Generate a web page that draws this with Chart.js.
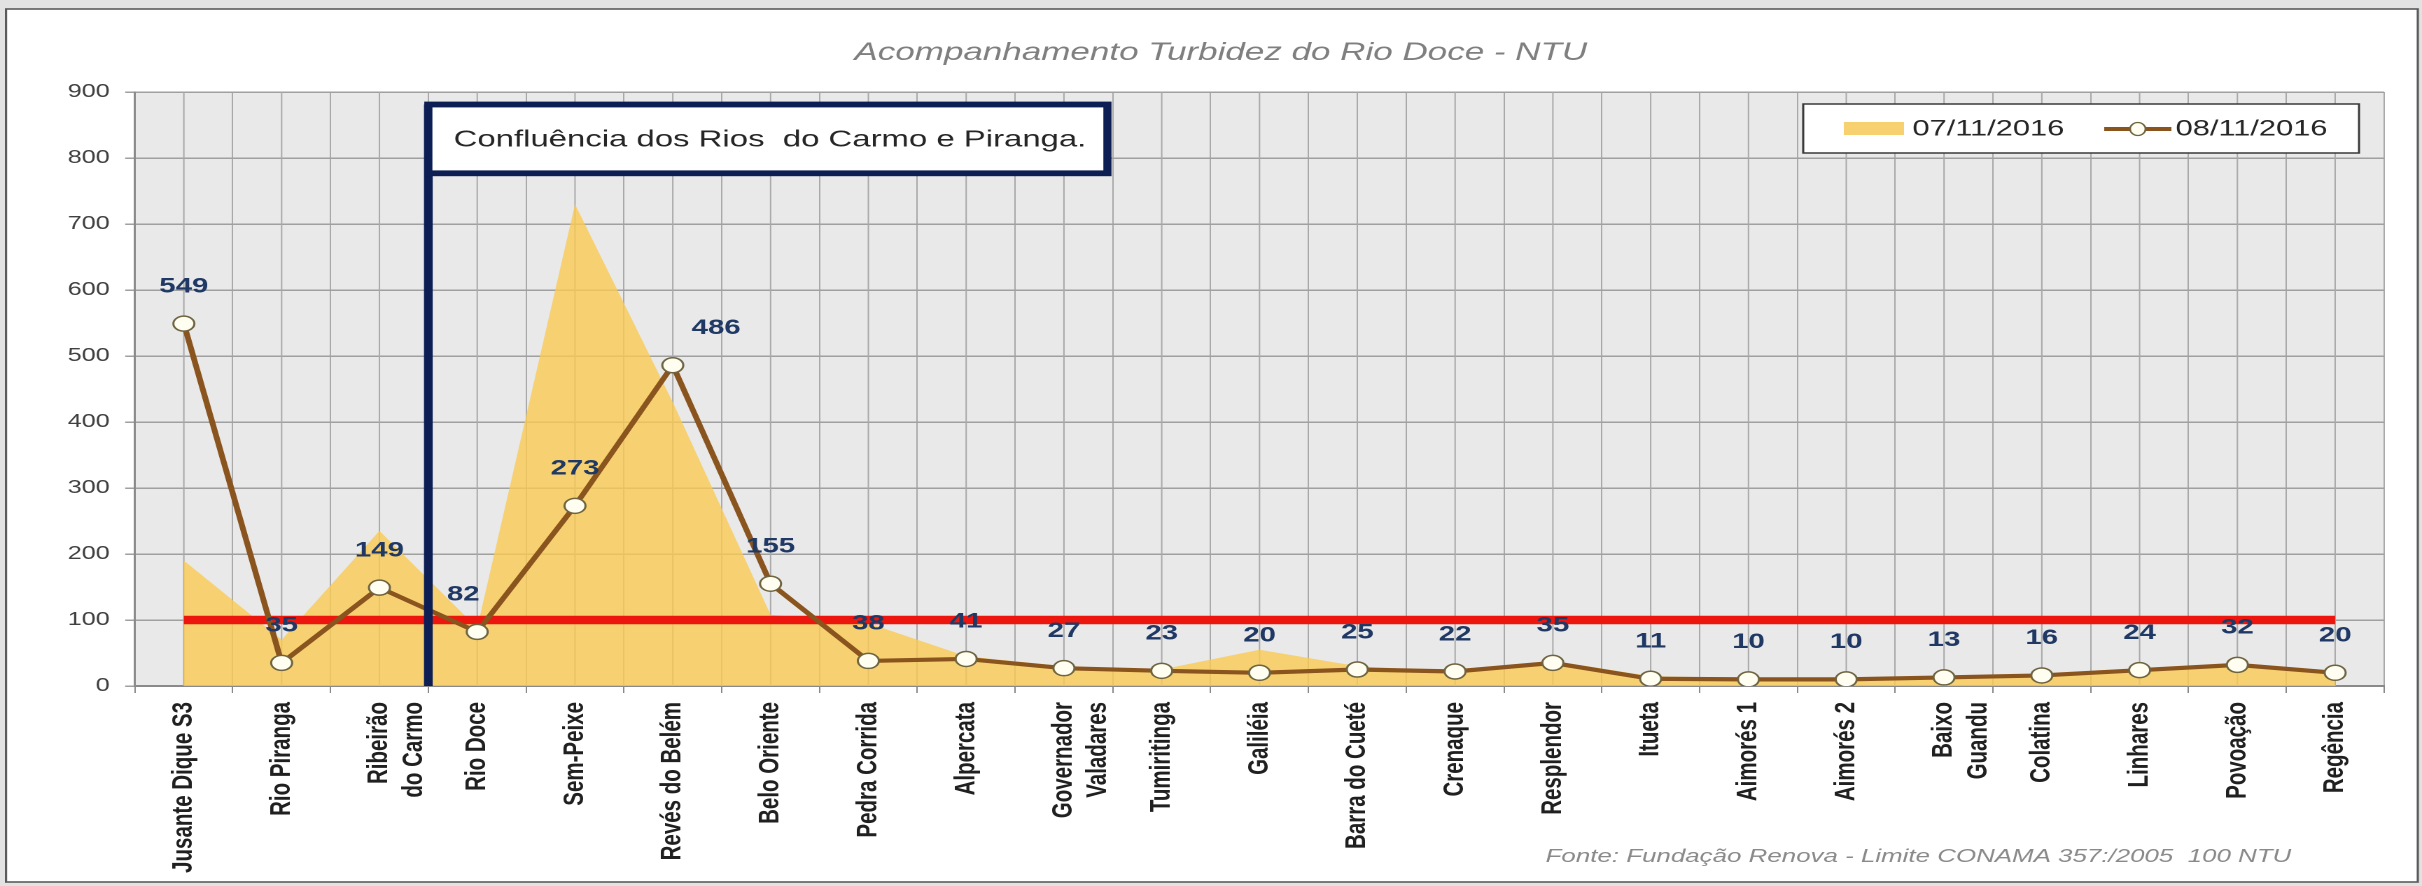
<!DOCTYPE html>
<html lang="pt">
<head>
<meta charset="utf-8">
<title>Acompanhamento Turbidez do Rio Doce - NTU</title>
<script src="https://cdn.jsdelivr.net/npm/chart.js@4"></script>
<style>
  html, body { margin:0; padding:0; width:2422px; height:886px; overflow:hidden; background:#e2e2e2; }
  #wrap { position:absolute; left:0; top:0; width:1730px; height:886px; transform:scaleX(1.4); transform-origin:0 0; }
  canvas { display:block; }
</style>
</head>
<body>
<div id="wrap"><canvas id="c"></canvas></div>
<script>
// ---- data ----
const categorias = [
  'Jusante Dique S3', 'Rio Piranga', ['Ribeirão', 'do Carmo'], 'Rio Doce', 'Sem-Peixe',
  'Revés do Belém', 'Belo Oriente', 'Pedra Corrida', 'Alpercata', ['Governador', 'Valadares'],
  'Tumiritinga', 'Galiléia', 'Barra do Cueté', 'Crenaque', 'Resplendor', 'Itueta',
  'Aimorés 1', 'Aimorés 2', ['Baixo', 'Guandu'], 'Colatina', 'Linhares', 'Povoação', 'Regência'
];
const turbidez07 = [190, 70, 235, 88, 730, 430, 108, 95, 45, 30, 25, 55, 30, 22, 38, 15, 12, 12, 15, 18, 25, 28, 22];
const turbidez08 = [549, 35, 149, 82, 273, 486, 155, 38, 41, 27, 23, 20, 25, 22, 35, 11, 10, 10, 13, 16, 24, 32, 20];
const limiteConama = [100, 100, 100, 100, 100, 100, 100, 100, 100, 100, 100, 100, 100, 100, 100, 100, 100, 100, 100, 100, 100, 100, 100];
const serieNomes = ['07/11/2016', '08/11/2016', 'Limite CONAMA'];
const yMin = 0, yMax = 900, yStep = 100;
const tituloTexto = 'Acompanhamento Turbidez do Rio Doce - NTU';
const notaTexto = 'Confluência dos Rios  do Carmo e Piranga.';
const fonteTexto = 'Fonte: Fundação Renova - Limite CONAMA 357:/2005  100 NTU';

// ---- styles ----
const FONT = "'Liberation Sans', Arial, Helvetica, sans-serif";
const areaFill = 'rgba(250,202,82,0.80)';
const areaSwatch = 'rgb(247,208,112)';
const lineColor = 'rgb(138,84,30)';
const navy = 'rgb(12,30,84)';
const labelColor = '#1f3864';

Chart.defaults.font.family = FONT;

const decor = {
  id: 'decor',
  beforeDraw(chart) {
    const { ctx, width, height, chartArea: a } = chart;
    ctx.save();
    ctx.fillStyle = '#e2e2e2';
    ctx.fillRect(0, 0, width, height);
    ctx.fillStyle = '#ffffff';
    ctx.fillRect(4.3, 9, 1722.7, 873);
    ctx.strokeStyle = '#5a5a5a';
    ctx.lineWidth = 1.6;
    ctx.strokeRect(4.3, 9, 1722.7, 873);
    ctx.fillStyle = '#e9e9e9';
    ctx.fillRect(a.left, a.top, a.right - a.left, a.bottom - a.top);
    ctx.restore();
  },
  beforeDatasetsDraw(chart) {
    const x = chart.scales.x, a = chart.chartArea, ctx = chart.ctx;
    ctx.save();
    ctx.strokeStyle = '#a9a9a9';
    ctx.lineWidth = 1;
    for (let i = 0; i < categorias.length; i++) {
      const px = x.getPixelForValue(i);
      ctx.beginPath();
      ctx.moveTo(px, a.top);
      ctx.lineTo(px, a.bottom);
      ctx.stroke();
    }
    ctx.restore();
  },
  afterDatasetsDraw(chart, args, opts) {
    const ctx = chart.ctx, a = chart.chartArea, x = chart.scales.x;
    ctx.save();

    // confluence marker: line between Ribeirão do Carmo and Rio Doce
    const lx = (x.getPixelForValue(2) + x.getPixelForValue(3)) / 2;
    const boxTop = 104.5, boxBottom = 173.3, boxRight = 791;
    ctx.strokeStyle = navy;
    ctx.lineWidth = 6.2;
    ctx.beginPath();
    ctx.moveTo(lx, a.bottom);
    ctx.lineTo(lx, boxTop);
    ctx.stroke();
    ctx.fillStyle = '#ffffff';
    ctx.fillRect(lx, boxTop, boxRight - lx, boxBottom - boxTop);
    ctx.lineWidth = 5.8;
    ctx.strokeRect(lx, boxTop, boxRight - lx, boxBottom - boxTop);
    ctx.fillStyle = '#262626';
    ctx.font = '23.5px ' + FONT;
    ctx.textAlign = 'left';
    ctx.textBaseline = 'middle';
    ctx.fillText(notaTexto, 324, 140);

    // data labels of the 08/11/2016 series
    const meta = chart.getDatasetMeta(1);
    ctx.font = 'bold 21px ' + FONT;
    ctx.fillStyle = labelColor;
    ctx.textAlign = 'center';
    meta.data.forEach((el, i) => {
      const n = (opts.nudge && opts.nudge[i]) || [0, 0];
      ctx.fillText(String(turbidez08[i]), el.x + n[0], el.y - 37 + n[1]);
    });

    // title
    ctx.font = 'italic 25px ' + FONT;
    ctx.fillStyle = '#7f7f7f';
    ctx.textAlign = 'center';
    ctx.fillText(tituloTexto, 872, 53);

    // footer
    ctx.font = 'italic 18.5px ' + FONT;
    ctx.fillStyle = '#8a8a8a';
    ctx.textAlign = 'left';
    ctx.fillText(fonteTexto, 1104, 857);

    // legend
    const ds = chart.data.datasets;
    ctx.fillStyle = '#ffffff';
    ctx.fillRect(1288, 104, 397, 49);
    ctx.strokeStyle = '#3a3a3a';
    ctx.lineWidth = 1.5;
    ctx.strokeRect(1288, 104, 397, 49);
    ctx.fillStyle = areaSwatch;
    ctx.fillRect(1317, 122, 43, 13);
    ctx.font = '22px ' + FONT;
    ctx.fillStyle = '#262626';
    ctx.textAlign = 'left';
    ctx.fillText(ds[0].label, 1366, 129.5);
    ctx.strokeStyle = ds[1].borderColor;
    ctx.lineWidth = 4;
    ctx.beginPath();
    ctx.moveTo(1503, 129);
    ctx.lineTo(1551, 129);
    ctx.stroke();
    ctx.beginPath();
    ctx.ellipse(1527, 129, 5.5, 6.5, 0, 0, Math.PI * 2);
    ctx.fillStyle = '#fffef0';
    ctx.fill();
    ctx.strokeStyle = '#6e6440';
    ctx.lineWidth = 1.3;
    ctx.stroke();
    ctx.fillStyle = '#262626';
    ctx.fillText(ds[1].label, 1554, 129.5);

    ctx.restore();
  }
};

new Chart(document.getElementById('c'), {
  data: {
    labels: categorias,
    datasets: [
      {
        type: 'line', label: serieNomes[0], data: turbidez07,
        fill: 'origin', backgroundColor: areaFill, borderWidth: 0, borderColor: 'rgba(0,0,0,0)',
        pointRadius: 0, tension: 0, order: 3
      },
      {
        type: 'line', label: serieNomes[1], data: turbidez08,
        borderColor: lineColor, borderWidth: 4.2, fill: false, tension: 0,
        pointRadius: 7.5, pointBackgroundColor: '#fffef0', pointBorderColor: '#6e6440', pointBorderWidth: 1.5,
        order: 1
      },
      {
        type: 'line', label: serieNomes[2], data: limiteConama,
        borderColor: 'rgb(236,22,14)', borderWidth: 8.5, fill: false, pointRadius: 0, tension: 0,
        borderCapStyle: 'butt', order: 2
      }
    ]
  },
  options: {
    responsive: true,
    maintainAspectRatio: false,
    devicePixelRatio: 2,
    animation: false,
    events: [],
    layout: { padding: { left: 0, right: 27.1, top: 92, bottom: 0 } },
    plugins: {
      legend: { display: false },
      title: { display: false },
      tooltip: { enabled: false },
      decor: { nudge: { 5: [31, 0], 3: [-10, 0] } }
    },
    scales: {
      x: {
        type: 'category',
        offset: true,
        grid: { offset: true, color: '#a9a9a9', lineWidth: 1, tickLength: 7, tickColor: '#8a8a8a', drawTicks: true },
        border: { color: '#8a8a8a', width: 2 },
        ticks: {
          autoSkip: false, maxRotation: 90, minRotation: 90, padding: 9,
          color: '#202020', font: { size: 20.5, weight: 'bold', lineHeight: 1.2 }
        },
        afterFit(s) { s.height = 200; }
      },
      y: {
        min: yMin, max: yMax,
        ticks: { stepSize: yStep, color: '#404040', font: { size: 18 }, padding: 11 },
        grid: { color: '#a0a0a0', lineWidth: 1.5, tickLength: 7, tickColor: '#a0a0a0' },
        border: { color: '#8a8a8a', width: 1.5 },
        afterFit(s) { s.width = 96.4; }
      }
    }
  },
  plugins: [decor]
});
</script>
</body>
</html>
